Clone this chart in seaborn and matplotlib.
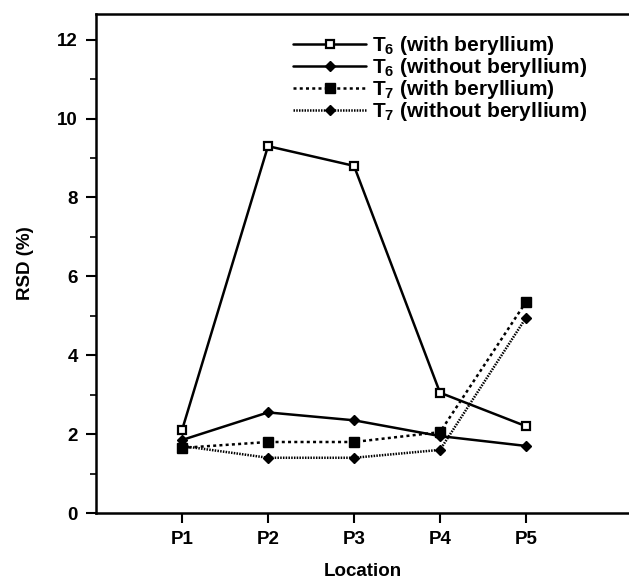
import matplotlib
matplotlib.use("Agg")
import matplotlib.pyplot as plt
import seaborn as sns
import pandas as pd
from matplotlib.ticker import MultipleLocator

locations = ["P1", "P2", "P3", "P4", "P5"]
t6_with = [2.1, 9.3, 8.8, 3.05, 2.2]
t6_without = [1.85, 2.55, 2.35, 1.95, 1.7]
t7_with = [1.65, 1.8, 1.8, 2.05, 5.35]
t7_without = [1.7, 1.4, 1.4, 1.6, 4.95]
series_names = ["T$_6$ (with beryllium)", "T$_6$ (without beryllium)",
                "T$_7$ (with beryllium)", "T$_7$ (without beryllium)"]

sns.set_theme(style="ticks")
plt.rcParams['font.family'] = ['Liberation Sans', 'DejaVu Sans']
plt.rcParams['font.weight'] = 'bold'
plt.rcParams['mathtext.default'] = 'regular'
plt.rcParams['text.color'] = 'black'
plt.rcParams['axes.labelcolor'] = 'black'
plt.rcParams['xtick.color'] = 'black'
plt.rcParams['ytick.color'] = 'black'

rows = []
for name, vals in zip(series_names, [t6_with, t6_without, t7_with, t7_without]):
    for i, v in enumerate(vals):
        rows.append({"series": name, "pos": i + 1, "RSD": v})
df = pd.DataFrame(rows)

fig = plt.figure(figsize=(6.29, 5.83), dpi=100)
ax = fig.add_axes([96/629, 70/583, 533/629, 499/583])

styles = [
    dict(ls="-", marker="s", mfc="white", mec="black", ms=6, mew=1.6),
    dict(ls="-", marker="D", mfc="black", mec="black", ms=5),
    dict(ls=(0, (1.2, 1.3)), marker="s", mfc="black", mec="black", ms=6.5),
    dict(ls=(0, (0.6, 0.5)), marker="D", mfc="black", mec="black", ms=5),
]
for name, st in zip(series_names, styles):
    sub = df[df["series"] == name]
    sns.lineplot(data=sub, x="pos", y="RSD", ax=ax, color="black", lw=1.8,
                 linestyle=st["ls"], marker=st["marker"], markersize=st["ms"],
                 markerfacecolor=st["mfc"], markeredgecolor=st["mec"],
                 markeredgewidth=st.get("mew", 1), label=name)

ax.set_xlim(0, 533/86)
ax.set_ylim(0, 12.65)
ax.set_xticks(range(1, 6))
ax.set_xticklabels(locations)
ax.yaxis.set_major_locator(MultipleLocator(2))
ax.yaxis.set_minor_locator(MultipleLocator(1))
ax.tick_params(axis="both", which="major", direction="out", length=7, width=1.5,
               labelsize=13.5, pad=6)
ax.tick_params(axis="y", which="minor", direction="out", length=4, width=1.2)
for lab in ax.get_xticklabels() + ax.get_yticklabels():
    lab.set_fontweight("bold")
ax.spines["right"].set_visible(False)
for s in ["left", "bottom", "top"]:
    ax.spines[s].set_linewidth(1.8)
    ax.spines[s].set_color("black")
ax.set_xlabel("Location", fontsize=13.5, fontweight="bold", labelpad=11)
ax.set_ylabel("RSD (%)", fontsize=13.5, fontweight="bold", labelpad=17)

leg = ax.legend(loc="upper left", bbox_to_anchor=(0.37, 0.96), frameon=False,
                handlelength=3.5, handletextpad=0.3, labelspacing=-0.05,
                borderaxespad=0, borderpad=0, fontsize=15)
for t in leg.get_texts():
    t.set_fontweight("bold")

fig.savefig("out.png", dpi=100)
